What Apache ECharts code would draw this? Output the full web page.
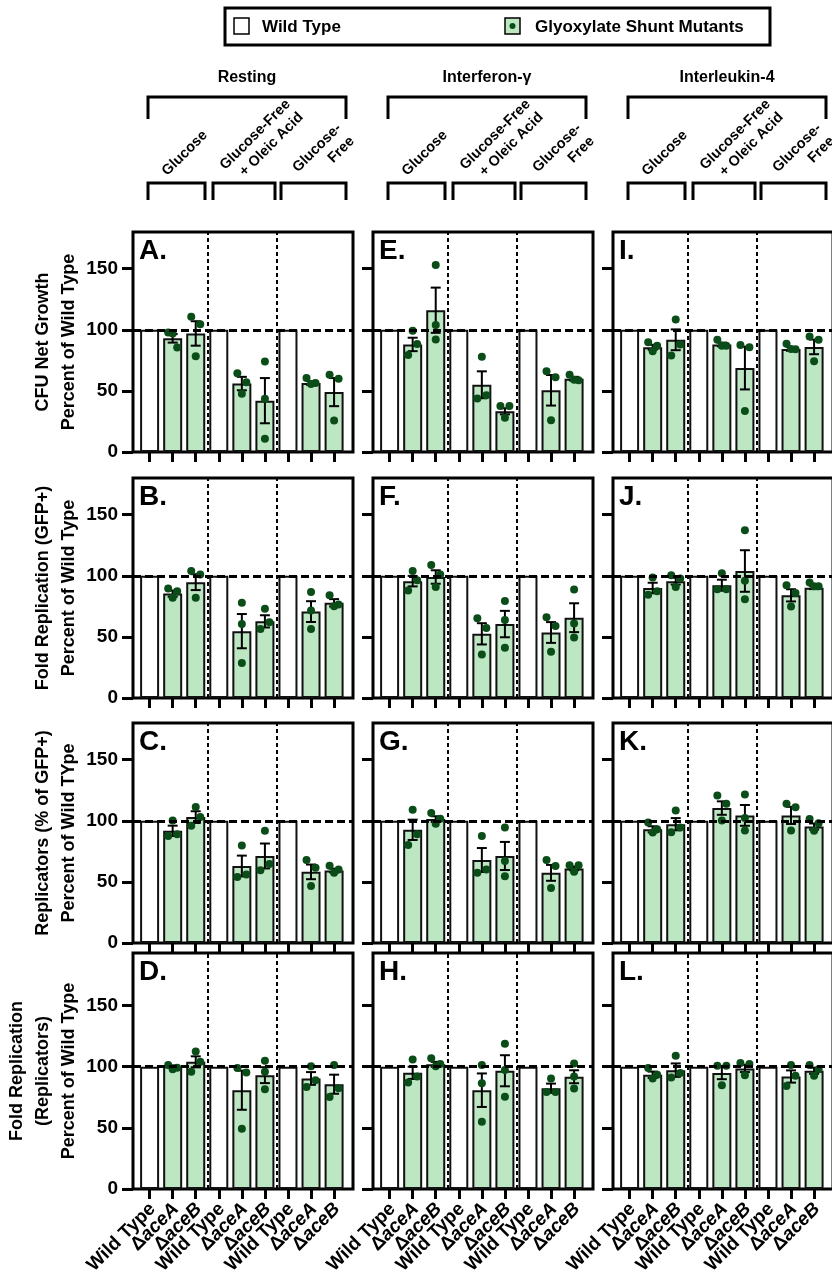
<!DOCTYPE html>
<html>
<head>
<meta charset="utf-8">
<script src="https://cdn.jsdelivr.net/npm/echarts@6/dist/echarts.min.js"></script>
<style>
  html, body { margin: 0; padding: 0; background: #fff; }
  #chart { width: 832px; height: 1281px; }
</style>
</head>
<body>
<div id="chart"></div>
<script>
// panels row by row: A E I / B F J / C G K / D H L
var panelNames = ['A', 'E', 'I', 'B', 'F', 'J', 'C', 'G', 'K', 'D', 'H', 'L'];
var barNames = ['Wild Type', 'ΔaceA', 'ΔaceB', 'Wild Type', 'ΔaceA', 'ΔaceB', 'Wild Type', 'ΔaceA', 'ΔaceB'];
var wildTypeValue = 100;
var yTicks = [0, 50, 100, 150];
var conditionNames = ['Resting', 'Interferon-γ', 'Interleukin-4'];
var groupNames = [['Glucose'], ['Glucose-Free', '+ Oleic Acid'], ['Glucose-', 'Free']];
var rowTitles = [
  'CFU Net Growth\nPercent of Wild Type',
  'Fold Replication (GFP+)\nPercent of Wild Type',
  'Replicators (% of GFP+)\nPercent of Wild TYpe',
  'Fold Replication\n(Replicators)\nPercent of Wild Type'
];

// mutant bars per panel: glucose aceA, aceB | GF+oleic aceA, aceB | GF aceA, aceB
var mutantMeans = [
  [93, 97, 56, 42, 56.5, 49],
  [88, 116, 55, 33.3, 50.5, 60],
  [85.7, 91.8, 88, 68.7, 84.3, 86],
  [85.4, 94.8, 54.7, 62.7, 70.7, 77.9],
  [95.6, 99, 52.5, 60.5, 53.6, 65.7],
  [90, 95.6, 92.3, 103.9, 84, 90.3],
  [91.8, 103, 63, 71.2, 58.2, 59.3],
  [92.6, 101.4, 67.9, 71.2, 57.4, 61],
  [93, 97.2, 110.4, 104.4, 104.4, 95.3],
  [100.3, 104, 80.8, 93.1, 90.4, 85.7],
  [95, 102, 80.8, 96.7, 82.4, 91.8],
  [93.4, 97.2, 94.8, 98.6, 92, 96.7]
];
var mutantSems = [
  [3.5, 10, 5.5, 18.5, 1.5, 11.5],
  [5.5, 18.5, 11, 2.5, 12.5, 1.5],
  [2, 8.5, 1.5, 17.5, 1.5, 6],
  [2.5, 6.5, 14, 5, 8.5, 3],
  [4.3, 5.5, 8.7, 10.8, 8.5, 11.8],
  [4.3, 2.8, 4.5, 17, 5, 1.2],
  [4.2, 4.8, 8.5, 10.2, 6, 1.5],
  [8.3, 2.3, 9.8, 11.5, 6.5, 1.5],
  [2.5, 5, 5.5, 8.5, 7, 2.5],
  [0.8, 4.5, 16, 6.5, 5.2, 7.8],
  [5, 2, 13.7, 12.7, 3.8, 5.3],
  [2.6, 5.5, 5, 3, 5, 2.5]
];
var mutantDots = [
  [[97.8, 97, 85.6], [110.6, 104.6, 78.3], [64.4, 57, 47.6], [74, 43.5, 10.9], [60.6, 55.7, 56.5], [63.3, 60, 25.8]],
  [[99.2, 88.3, 79.3], [153, 104, 92], [78, 43.7, 46.4], [37.7, 37.7, 28], [66, 61.2, 26], [63.3, 59.2, 58.7]],
  [[89.8, 87, 82.4], [108.5, 88, 79], [91.8, 87, 87], [87.6, 85.7, 33.5], [88.5, 84, 84.3], [94.5, 91.8, 74.2]],
  [[89.5, 87.3, 82], [103.9, 101, 82], [77.9, 60.5, 28.7], [73, 56.4, 62], [86.7, 71.5, 56.4], [84, 75, 76.5]],
  [[104, 96.4, 88], [108.8, 101, 90.9], [65.2, 57.2, 35.6], [79.3, 63.8, 41.2], [66, 59, 37.8], [88.7, 61, 49.4]],
  [[98.6, 84.5, 87.3], [100.5, 97.8, 90.9], [102, 89, 89], [137.3, 95.9, 80.7], [92.3, 86, 74.9], [94.5, 91.4, 91.4]],
  [[100.3, 87.6, 89], [111.3, 103, 95.9], [79.7, 54.1, 56], [91.8, 59.6, 64.6], [67.9, 61.5, 46.7], [63.2, 57.4, 60.2]],
  [[109, 89, 80.2], [106.3, 101.6, 97.5], [87.6, 57.4, 60.2], [94.5, 67, 54.7], [67.9, 63, 45], [63.7, 58.2, 63.7]],
  [[98.6, 93.1, 90.4], [108.5, 94.5, 90.7], [120.6, 114, 100.3], [121.4, 102.2, 92], [114, 111, 92], [101.4, 98, 91.8]],
  [[101.4, 98, 99.2], [112.4, 104, 95.9], [98.9, 95.3, 49.2], [104.9, 95.9, 81.6], [100.3, 89, 83.5], [101.4, 82.4, 75.3]],
  [[106, 92, 87], [106.9, 102.2, 100.3], [101.4, 86.5, 54.9], [118.7, 97.3, 75.5], [90.4, 79.4, 79.4], [102.7, 92, 82.1]],
  [[98.9, 93.4, 90.4], [109, 94.8, 91.2], [100.8, 100.8, 84.9], [103, 102.2, 93.1], [101.4, 92.6, 84.3], [101.4, 98, 92.6]]
];
var sigLabels = [
  ['ns', 'ns', '**', '**', '**', '**'],
  ['ns', 'ns', '**', '**', '**', '**'],
  ['ns', 'ns', 'ns', 'ns', 'ns', 'ns'],
  ['ns', 'ns', '**', '*', '**', '**'],
  ['ns', 'ns', '**', '**', '**', '*'],
  ['ns', 'ns', 'ns', 'ns', 'ns', 'ns'],
  ['ns', 'ns', '*', '*', '**', '**'],
  ['ns', 'ns', '*', '*', '**', '**'],
  ['ns', 'ns', 'ns', 'ns', 'ns', 'ns'],
  ['ns', 'ns', 'ns', 'ns', 'ns', 'ns'],
  ['ns', 'ns', 'ns', 'ns', 'ns', 'ns'],
  ['ns', 'ns', 'ns', 'ns', 'ns', 'ns']
];

// styling / layout
var dotSide = [
  [[-1, 0, 1], [-1, 1, 0], [-1, 1, 0], [0, 0, 0], [-1, 0, 1], [-1, 1, 0]],
  [[0, 1, -1], [0, 0, 0], [0, -1, 1], [-1, 1, 0], [-1, 1, 0], [-1, 0, 1]],
  [[-1, 1, 0], [0, 1, -1], [-1, 0, 1], [-1, 1, 0], [-1, 1, 0], [-1, 1, 0]],
  [[-1, 1, 0], [-1, 1, 0], [0, 0, 0], [0, -1, 1], [0, 0, 0], [-1, 0, 1]],
  [[0, 1, -1], [-1, 1, 0], [-1, 1, 0], [0, 0, 0], [-1, 1, 0], [0, 0, 0]],
  [[0, -1, 1], [-1, 1, 0], [0, -1, 1], [0, 0, 0], [-1, 1, 0], [-1, 0, 1]],
  [[0, -1, 1], [0, 1, -1], [0, -1, 1], [0, -1, 1], [-1, 1, 0], [-1, 0, 1]],
  [[0, 1, -1], [-1, 1, 0], [0, -1, 1], [0, 0, 0], [-1, 1, 0], [-1, 0, 1]],
  [[-1, 1, 0], [0, 1, -1], [-1, 1, 0], [0, 0, 0], [-1, 1, 0], [-1, 1, 0]],
  [[-1, 0, 1], [0, 1, -1], [-1, 1, 0], [0, 0, 0], [0, 1, -1], [0, 1, -1]],
  [[0, 1, -1], [-1, 1, 0], [0, 0, 0], [0, 0, 0], [0, -1, 1], [0, 0, 0]],
  [[-1, 1, 0], [0, 1, -1], [-1, 1, 0], [-1, 1, 0], [0, 1, -1], [-1, 1, 0]]
];
var nsLevel = [126, 163, 123, 115, 115, 151.6, 124, 123, 146.7, 141, 141, 141];
var starLevel = [128, 117, 123, 118.5, 118.5, 151.6, 127, 125.5, 146.7, 141, 141, 141];

var FONT = 'Liberation Sans, Arial, Helvetica, sans-serif';
var GREEN = '#bde6c3';
var DOT = '#0b4d18';
var colLeft = [133, 373, 613];
var rowBase = [452, 698, 943, 1189];
var rowMax = [180, 180, 180, 193];
var pxPerUnit = 220 / 180;
var boxW = 220;
var xMin = -0.72, xMax = 8.82;
var slotIdx = [0, 1, 2, 3, 4, 5, 6, 7, 8];
var mutantSlot = [1, 2, 4, 5, 7, 8];

var chart = echarts.init(document.getElementById('chart'));

function renderErr(params, api) {
  var x = api.value(0), m = api.value(1), s = api.value(2);
  var hi = api.coord([x, m + s]), lo = api.coord([x, m - s]);
  var w = 5, st = { stroke: '#000', lineWidth: 2 };
  return {
    type: 'group',
    children: [
      { type: 'line', shape: { x1: hi[0], y1: hi[1], x2: lo[0], y2: lo[1] }, style: st },
      { type: 'line', shape: { x1: hi[0] - w, y1: hi[1], x2: hi[0] + w, y2: hi[1] }, style: st },
      { type: 'line', shape: { x1: lo[0] - w, y1: lo[1], x2: lo[0] + w, y2: lo[1] }, style: st }
    ]
  };
}

function strainLabel(n) {
  return n === 'Wild Type' ? '{n|Wild Type}' : '{n|Δ}{i|' + n.slice(1) + '}';
}

var grids = [], xAxes = [], yAxes = [], series = [], graphics = [];

panelNames.forEach(function (name, p) {
  var r = Math.floor(p / 3), c = p % 3;
  var boxH = Math.round(rowMax[r] * pxPerUnit);
  var top = rowBase[r] - boxH;
  grids.push({
    left: colLeft[c], top: top, width: boxW, height: boxH,
    show: true, borderColor: '#000', borderWidth: 3, backgroundColor: 'transparent',
    outerBoundsMode: 'none'
  });
  xAxes.push({
    gridIndex: p, type: 'value', min: xMin, max: xMax,
    splitLine: { show: false }, axisLine: { show: false, onZero: false },
    axisTick: { show: true, customValues: slotIdx, length: 10, lineStyle: { width: 3, color: '#000' } },
    axisLabel: { show: false }
  });
  yAxes.push({
    gridIndex: p, type: 'value', min: 0, max: rowMax[r],
    splitLine: { show: false }, axisLine: { show: false, onZero: false },
    axisTick: { show: true, customValues: yTicks, length: 11, lineStyle: { width: 3, color: '#000' } },
    axisLabel: {
      show: c === 0, customValues: yTicks, margin: 15,
      fontFamily: FONT, fontWeight: 'bold', fontSize: 19, color: '#000'
    },
    name: c === 0 ? rowTitles[r] : '',
    nameLocation: 'middle', nameRotate: 90, nameGap: r === 3 ? 49 : 38,
    nameTextStyle: { fontFamily: FONT, fontWeight: 'bold', fontSize: 18, lineHeight: 26, color: '#000', align: 'center' }
  });

  var barData = slotIdx.map(function (i) {
    var k = mutantSlot.indexOf(i);
    if (k < 0) return { value: [i, wildTypeValue], itemStyle: { color: '#fff' } };
    return { value: [i, mutantMeans[p][k]], itemStyle: { color: GREEN } };
  });
  var sepStyle = { type: [4, 3], width: 2, color: '#000' };
  series.push({
    type: 'bar', xAxisIndex: p, yAxisIndex: p, barWidth: 19, z: 2,
    data: barData,
    itemStyle: { borderColor: '#111', borderWidth: 2 },
    markLine: {
      silent: true, symbol: ['none', 'none'], label: { show: false }, animation: false,
      data: [
        { yAxis: wildTypeValue, lineStyle: { type: [8, 4], width: 3, color: '#000' } },
        { xAxis: 2.5, lineStyle: sepStyle },
        { xAxis: 5.5, lineStyle: sepStyle }
      ]
    }
  });
  series.push({
    type: 'custom', xAxisIndex: p, yAxisIndex: p, z: 3,
    renderItem: renderErr, encode: { x: 0, y: 1 },
    data: mutantSlot.map(function (i, k) { return [i, mutantMeans[p][k], mutantSems[p][k]]; })
  });
  var dots = [];
  mutantSlot.forEach(function (i, k) {
    mutantDots[p][k].forEach(function (v, j) {
      dots.push({ value: [i, v], symbolOffset: [dotSide[p][k][j] * 4.5, 0] });
    });
  });
  series.push({
    type: 'scatter', xAxisIndex: p, yAxisIndex: p, z: 4,
    symbolSize: 8, itemStyle: { color: DOT, opacity: 1 },
    data: dots
  });
  series.push({
    type: 'scatter', xAxisIndex: p, yAxisIndex: p, z: 5, symbolSize: 1,
    itemStyle: { opacity: 0 },
    data: mutantSlot.map(function (i, k) {
      var t = sigLabels[p][k], ns = t === 'ns';
      return {
        value: [i, ns ? nsLevel[p] : starLevel[p]],
        label: {
          show: true, position: 'inside', formatter: t, color: '#000', fontFamily: FONT,
          fontWeight: 'bold', fontStyle: ns ? 'italic' : 'normal', fontSize: ns ? 15 : 12
        }
      };
    })
  });

  graphics.push({
    type: 'text', x: colLeft[c] + 6, y: top + 5, z: 10,
    style: { text: name + '.', font: 'bold 28px ' + FONT, fill: '#000', verticalAlign: 'top' }
  });
});

// legend
graphics.push(
  { type: 'rect', shape: { x: 225, y: 8, width: 545, height: 37 }, style: { fill: 'none', stroke: '#000', lineWidth: 3 } },
  { type: 'rect', shape: { x: 234, y: 18, width: 15, height: 16 }, style: { fill: '#fff', stroke: '#000', lineWidth: 1.5 } },
  { type: 'text', x: 262, y: 27, style: { text: 'Wild Type', font: 'bold 17px ' + FONT, fill: '#000', verticalAlign: 'middle' } },
  { type: 'rect', shape: { x: 505, y: 18, width: 15, height: 16 }, style: { fill: GREEN, stroke: '#000', lineWidth: 1.5 } },
  { type: 'circle', shape: { cx: 512.5, cy: 26, r: 3 }, style: { fill: DOT } },
  { type: 'text', x: 535, y: 27, style: { text: 'Glyoxylate Shunt Mutants', font: 'bold 17px ' + FONT, fill: '#000', verticalAlign: 'middle' } }
);

// condition headers, brackets and rotated medium labels
var groupBr = [[15, 72], [80, 142], [148, 213]];
var lineEnds = [[[72, 133]], [[155, 102], [168, 115]], [[206, 126], [219, 139]]];
colLeft.forEach(function (L, c) {
  graphics.push({
    type: 'text', x: L + 114, y: 78,
    style: { text: conditionNames[c], font: 'bold 16px ' + FONT, fill: '#000', align: 'center', verticalAlign: 'middle' }
  });
  graphics.push({
    type: 'polyline', shape: { points: [[L + 15, 119], [L + 15, 97], [L + 213, 97], [L + 213, 119]] },
    style: { stroke: '#000', lineWidth: 3, fill: 'none' }
  });
  groupBr.forEach(function (b, g) {
    graphics.push({
      type: 'polyline', shape: { points: [[L + b[0], 200], [L + b[0], 183], [L + b[1], 183], [L + b[1], 200]] },
      style: { stroke: '#000', lineWidth: 3, fill: 'none' }
    });
    groupNames[g].forEach(function (t, li) {
      var e = lineEnds[g][li];
      graphics.push({
        type: 'text', x: L + e[0], y: e[1], rotation: Math.PI / 4,
        style: { text: t, font: 'bold 14.5px ' + FONT, fill: '#000', align: 'right', verticalAlign: 'middle' }
      });
    });
  });
});

chart.setOption({
  animation: false,
  backgroundColor: '#fff',
  grid: grids,
  xAxis: xAxes,
  yAxis: yAxes,
  series: series,
  graphic: graphics
});

// strain names under the bottom row: placed from the axis scale of each bottom panel
var labelRich = {
  n: { fontFamily: FONT, fontWeight: 'bold', fontSize: 19, fill: '#000' },
  i: { fontFamily: FONT, fontWeight: 'bold', fontStyle: 'italic', fontSize: 19, fill: '#000' }
};
[9, 10, 11].forEach(function (p) {
  slotIdx.forEach(function (i) {
    var pt = chart.convertToPixel({ gridIndex: p }, [i, 0]);
    graphics.push({
      type: 'text', x: pt[0] + 3, y: pt[1] + 17, rotation: Math.PI / 4,
      style: {
        text: strainLabel(barNames[i]), rich: labelRich,
        font: 'bold 19px ' + FONT, fill: '#000', align: 'right', verticalAlign: 'middle'
      }
    });
  });
});
chart.setOption({ graphic: graphics });
</script>
</body>
</html>
